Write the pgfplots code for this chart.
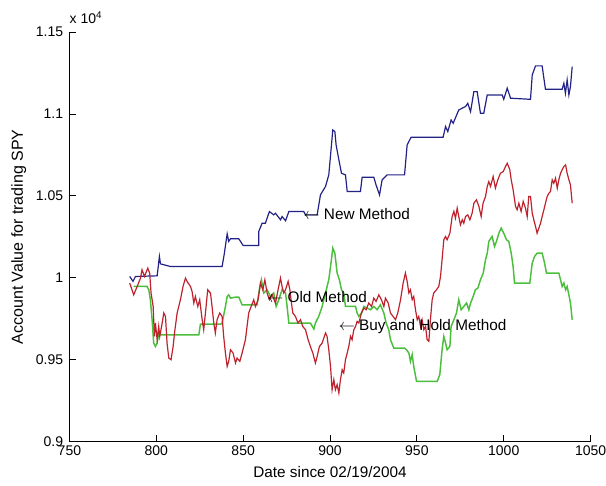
\documentclass[border=0pt]{standalone}
\usepackage{fontspec}
\setmainfont{Liberation Sans}
\usepackage{pgfplots}
\pgfplotsset{compat=1.18}

\definecolor{newblue}{RGB}{35,35,135}
\definecolor{oldred}{RGB}{190,35,45}
\definecolor{bhgreen}{RGB}{75,190,60}

\begin{document}
\begin{tikzpicture}
\begin{axis}[
    name=ax,
    scale only axis,
    width=391.2pt, height=307.5pt,
    xmin=750, xmax=1050, ymin=9000, ymax=11500,
    axis lines=left,
    axis line style={-, line width=0.6pt},
    tick align=inside,
    major tick length=5pt,
    tick style={black, line width=0.6pt},
    xtick={750,800,...,1050},
    ytick={9000,9500,...,11500},
    yticklabels={0.9,0.95,1,1.05,1.1,1.15},
    scaled y ticks=false,
    /pgf/number format/assume math mode=true,
    /pgf/number format/1000 sep={},
    xticklabel style={font=\fontsize{10.5}{12}\selectfont, inner sep=0pt, anchor=north, yshift=-3pt},
    yticklabel style={font=\fontsize{10.5}{12}\selectfont, inner sep=0pt, anchor=east, xshift=-4.5pt},
    xlabel={Date since 02/19/2004},
    ylabel={Account Value for trading SPY},
    xlabel style={font=\fontsize{11.5}{13}\selectfont, at={(axis description cs:0.5,0)}, anchor=center, yshift=-22.5pt},
    ylabel style={font=\fontsize{12}{14}\selectfont, at={(axis description cs:0,0.5)}, anchor=center, rotate=0, yshift=38pt},
    no markers,
    clip=false,
]
% New Method
\addplot[newblue, line width=0.9pt] coordinates {
(784.7,10008) (786.6,9978) (788.0,10008) (800.5,10012) (801.8,10130) (802.4,10085)
(808.1,10069) (837.9,10069) (839.2,10150) (840.8,10268) (841.7,10222) (842.7,10238)
(847.5,10238) (850.0,10197) (859.0,10197) (859.0,10283) (860.9,10333) (862.8,10333)
(865.1,10404) (867.6,10384) (868.6,10394) (871.5,10354) (872.4,10374) (874.4,10348)
(876.3,10404) (884.9,10404) (885.9,10384) (892.6,10384) (894.5,10506) (897.4,10557)
(899.3,10628) (901.6,10902) (902.8,10892) (903.5,10811) (905.1,10720) (906.6,10638)
(908.9,10628) (909.9,10526) (917.5,10526) (918.5,10614) (925.2,10614) (926.5,10567)
(928.5,10506) (930.0,10598) (932.9,10628) (942.9,10628) (944.4,10811) (946.7,10858)
(965.1,10858) (966.5,10923) (967.8,10892) (969.7,10963) (970.9,10943) (974.1,11024)
(976.1,11035) (978.0,11045) (979.3,11065) (980.9,11014) (982.8,11136) (984.7,11136)
(986.6,11004) (988.5,11004) (990.5,11116) (999.1,11116) (1000.0,11089) (1002.0,11157)
(1003.9,11096) (1015.4,11089) (1016.4,11238) (1018.3,11293) (1022.1,11293) (1024.0,11150)
(1033.6,11150) (1034.6,11187) (1035.5,11126) (1036.5,11207) (1037.5,11116) (1038.4,11167)
(1039.4,11289)
};
% Buy and Hold Method
\addplot[bhgreen, line width=1.1pt] coordinates {
(787.0,9947) (794.7,9947) (795.7,9927) (796.6,9866) (797.6,9744) (798.5,9602)
(799.5,9581) (800.5,9602) (801.4,9663) (802.4,9652) (824.5,9652) (825.4,9717)
(837.0,9717) (837.9,9724) (839.8,9825) (840.8,9886) (841.7,9896) (842.7,9876)
(845.6,9882) (847.5,9882) (849.4,9835) (858.0,9835) (859.6,9947) (860.5,9988)
(861.9,9907) (863.8,9927) (865.7,9886) (867.6,9907) (869.0,9825) (870.5,9866)
(872.4,9927) (874.4,9907) (875.3,9825) (876.3,9724) (888.7,9724) (890.7,9687)
(891.6,9724) (893.5,9764) (895.5,9825) (897.4,9907) (899.3,9988) (900.8,10110)
(901.6,10181) (902.8,10150) (904.1,10029) (905.4,9988) (906.6,9927) (907.9,9907)
(908.9,9825) (914.7,9825) (915.6,9785) (916.6,9764) (918.1,9785) (919.5,9825)
(921.4,9815) (923.3,9805) (925.2,9825) (927.1,9805) (929.0,9835) (931.0,9785)
(932.3,9724) (933.8,9683) (934.8,9622) (936.7,9571) (942.9,9571) (944.0,9561)
(945.4,9541) (946.3,9490) (947.3,9531) (948.2,9459) (949.8,9368) (961.7,9368)
(963.2,9409) (964.5,9561) (965.5,9642) (966.5,9602) (967.4,9561) (969.0,9581)
(969.7,9703) (971.3,9744) (972.8,9785) (974.1,9866) (975.5,9805) (977.0,9825)
(978.6,9846) (979.9,9805) (980.9,9846) (982.4,9886) (983.7,9927) (985.1,9937)
(986.6,9988) (988.2,10029) (989.5,10110) (990.5,10150) (991.4,10222) (993.3,10252)
(994.7,10191) (995.8,10222) (997.2,10272) (998.5,10303) (1000.0,10272) (1001.6,10232)
(1002.9,10222) (1004.3,10150) (1005.4,10069) (1006.2,9968) (1015.0,9968) (1016.4,10090)
(1017.7,10130) (1019.2,10150) (1022.1,10150) (1023.5,10090) (1024.6,10029) (1031.7,10029)
(1032.7,9988) (1033.6,9947) (1034.6,9968) (1035.6,9927) (1036.5,9947) (1037.5,9896)
(1038.4,9846) (1039.4,9744)
};
% Old Method
\addplot[oldred, line width=0.9pt] coordinates {
(784.7,9968) (787.0,9896) (789.0,9947) (790.9,9998) (791.8,10049) (793.2,10008)
(795.1,10059) (796.2,10028) (797.0,9907) (798.2,9825) (798.9,9642) (799.5,9724)
(800.5,9622) (801.4,9703) (802.0,9642) (803.4,9724) (804.3,9785) (805.3,9764)
(806.2,9602) (807.2,9510) (808.5,9500) (809.7,9581) (810.5,9663) (812.0,9785)
(813.9,9866) (815.4,9947) (816.8,9998) (817.7,9978) (819.7,9947) (820.6,9917)
(821.6,9846) (822.5,9886) (823.9,9825) (825.0,9866) (826.4,9744) (827.3,9683)
(828.3,9785) (829.6,9927) (831.2,9907) (832.1,9825) (833.1,9724) (834.0,9663)
(835.0,9744) (836.5,9785) (837.9,9764) (838.8,9642) (839.8,9541) (840.8,9459)
(841.7,9490) (842.7,9561) (844.2,9541) (845.6,9480) (846.5,9510) (848.1,9490)
(849.4,9541) (851.3,9622) (853.2,9785) (854.6,9825) (856.1,9866) (857.1,9825)
(858.6,9866) (860.0,9968) (861.3,9927) (862.5,9988) (863.8,9907) (865.1,9866)
(866.7,9896) (868.6,9846) (870.1,9927) (871.5,9998) (872.4,9947) (873.4,9907)
(874.4,9927) (875.9,9978) (876.9,9927) (877.8,9846) (878.6,9785) (880.1,9764)
(881.6,9724) (883.0,9744) (884.3,9703) (885.9,9683) (887.4,9622) (888.7,9581)
(890.1,9541) (891.6,9480) (892.6,9520) (893.9,9581) (895.5,9602) (897.4,9663)
(898.3,9643) (899.3,9561) (900.3,9459) (901.2,9317) (902.2,9378) (903.1,9317)
(904.1,9348) (905.1,9297) (906.0,9378) (907.0,9439) (907.9,9419) (908.9,9500)
(909.9,9541) (910.8,9581) (911.8,9643) (912.7,9622) (913.7,9683) (914.7,9703)
(915.6,9734) (916.6,9724) (918.1,9785) (919.5,9815) (920.8,9805) (922.3,9846)
(923.9,9825) (925.2,9876) (926.5,9856) (928.1,9896) (929.6,9866) (931.0,9825)
(931.9,9876) (933.5,9846) (934.8,9785) (936.3,9764) (937.7,9744) (939.0,9785)
(940.6,9866) (942.1,9968) (943.4,10029) (944.4,9978) (945.4,9907) (946.3,9927)
(947.3,9866) (948.2,9886) (949.2,9805) (950.2,9744) (951.1,9764) (952.1,9703)
(953.0,9744) (954.0,9683) (955.0,9703) (955.9,9622) (956.9,9612) (957.8,9744)
(958.8,9866) (959.7,9907) (961.3,9927) (962.6,9947) (963.6,10008) (964.5,10110)
(965.5,10232) (966.5,10252) (967.4,10232) (969.0,10272) (970.3,10374) (971.3,10405)
(972.2,10364) (973.2,10425) (974.1,10374) (975.1,10323) (976.1,10354) (977.0,10333)
(978.0,10374) (979.3,10384) (980.5,10354) (981.8,10394) (982.8,10455) (984.3,10476)
(985.7,10435) (987.0,10374) (988.1,10455) (989.5,10496) (990.5,10557) (991.4,10587)
(992.4,10557) (993.9,10618) (995.2,10547) (996.6,10598) (998.1,10638) (999.7,10648)
(1001.0,10679) (1002.0,10699) (1003.5,10659) (1004.3,10598) (1005.4,10537) (1006.8,10435)
(1007.7,10415) (1008.7,10455) (1010.0,10405) (1011.2,10466) (1012.5,10425) (1013.5,10374)
(1014.4,10496) (1015.4,10496) (1016.4,10394) (1017.3,10354) (1018.3,10313) (1019.2,10272)
(1020.2,10303) (1021.2,10333) (1022.1,10374) (1023.1,10415) (1024.0,10455) (1025.0,10496)
(1026.0,10516) (1026.9,10526) (1027.9,10598) (1028.8,10577) (1029.8,10608) (1030.8,10547)
(1031.7,10598) (1032.7,10638) (1033.6,10659) (1034.6,10679) (1035.6,10689) (1036.5,10638)
(1037.5,10598) (1038.4,10567) (1039.4,10455)
};
\node[anchor=west, inner sep=0pt, font=\fontsize{11.5}{13}\selectfont] at (axis cs:884.7,10390) {$\leftarrow$ New Method};
\node[anchor=west, inner sep=0pt, font=\fontsize{11.5}{13}\selectfont] at (axis cs:863.8,9880) {$\leftarrow$ Old Method};
\node[anchor=west, inner sep=0pt, font=\fontsize{11.5}{13}\selectfont] at (axis cs:904.9,9703) {$\leftarrow$ Buy and Hold Method};
\node[anchor=base west, inner sep=0pt, yshift=6pt, font=\fontsize{10.5}{12}\selectfont] at (rel axis cs:0,1) {x 10\textsuperscript{4}};
\end{axis}
\pgfresetboundingbox
\path ([shift={(-52.1pt,-33pt)}]ax.south west) rectangle ([shift={(11.55pt,24pt)}]ax.north east);
\end{tikzpicture}
\end{document}
